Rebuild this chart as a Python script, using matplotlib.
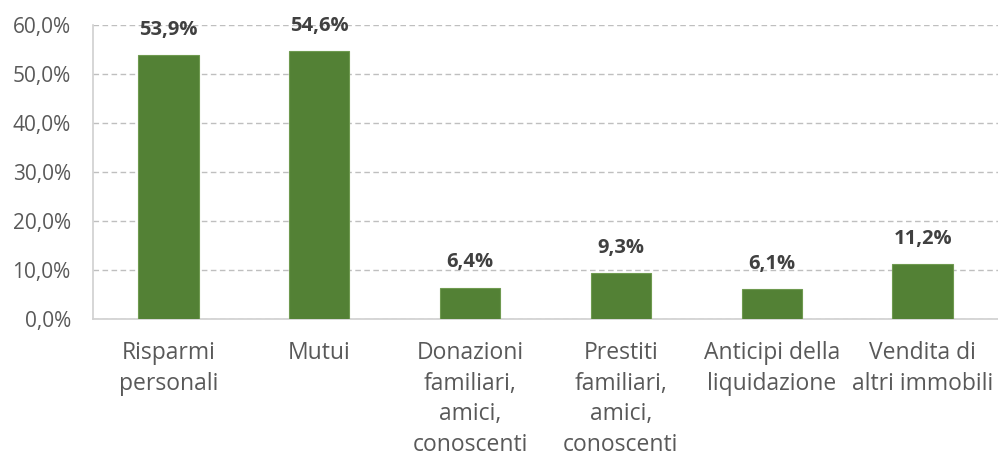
import matplotlib.pyplot as plt
from matplotlib.ticker import FuncFormatter

categorie = ["Risparmi\npersonali", "Mutui", "Donazioni\nfamiliari,\namici,\nconoscenti",
             "Prestiti\nfamiliari,\namici,\nconoscenti", "Anticipi della\nliquidazione",
             "Vendita di\naltri immobili"]
valori = [53.9, 54.6, 6.4, 9.3, 6.1, 11.2]
tick_y = [0, 10, 20, 30, 40, 50, 60]

plt.rcParams['font.family'] = ['Open Sans', 'DejaVu Sans']

fig = plt.figure(figsize=(9.98, 4.61), dpi=100)
ax = fig.add_axes([0.0932, 0.308, 0.9068, 0.638])

x = range(len(valori))
barre = ax.bar(x, valori, width=0.4, color="#538135", edgecolor="#6f9a50", linewidth=0.8, zorder=3)

for xi, v in zip(x, valori):
    ax.annotate(f"{v:.1f}%".replace(".", ","), (xi, v), xytext=(0, 11), textcoords="offset points",
                ha="center", va="bottom", fontsize=14.5, fontweight="bold", color="#404040")

ax.set_xlim(-0.5, len(valori) - 0.5)
ax.set_ylim(0, 60)
ax.set_yticks(tick_y)
ax.yaxis.set_major_formatter(FuncFormatter(lambda v, p: f"{v:.1f}%".replace(".", ",")))
ax.set_xticks(list(x))
ax.set_xticklabels(categorie, fontsize=16.5, color="#595959", linespacing=1.36, va="top")
ax.tick_params(axis="y", labelsize=15, colors="#595959", length=0, pad=16)
ax.tick_params(axis="x", length=0, pad=16)

ax.grid(axis="y", color="#bfbfbf", linestyle=(0, (4, 2.5)), linewidth=1, zorder=0)
for s in ["top", "right"]:
    ax.spines[s].set_visible(False)
ax.spines["left"].set_color("#d0d0d0")
ax.spines["bottom"].set_color("#d0d0d0")
ax.spines["left"].set_linewidth(1.2)
ax.spines["bottom"].set_linewidth(1.2)

fig.savefig("out.png", dpi=100)
